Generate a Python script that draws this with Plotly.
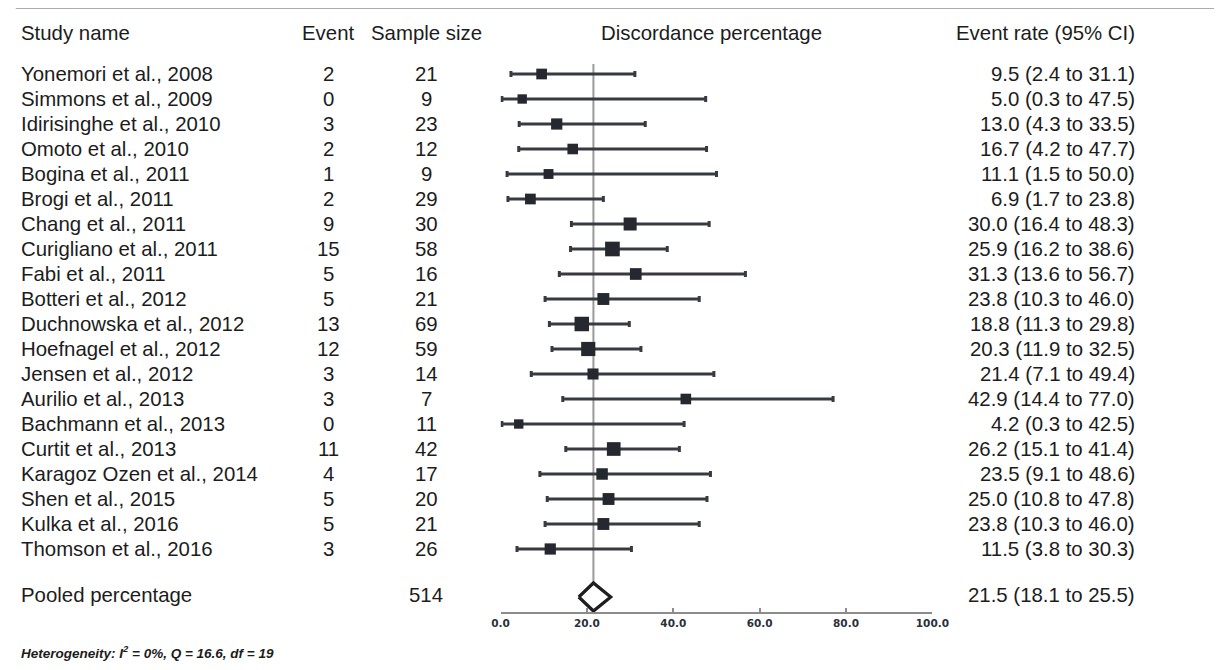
import math
import plotly.graph_objects as go

# ---------------- data ----------------
studies = [
    "Yonemori et al., 2008", "Simmons et al., 2009", "Idirisinghe et al., 2010",
    "Omoto et al., 2010", "Bogina et al., 2011", "Brogi et al., 2011",
    "Chang et al., 2011", "Curigliano et al., 2011", "Fabi et al., 2011",
    "Botteri et al., 2012", "Duchnowska et al., 2012", "Hoefnagel et al., 2012",
    "Jensen et al., 2012", "Aurilio et al., 2013", "Bachmann et al., 2013",
    "Curtit et al., 2013", "Karagoz Ozen et al., 2014", "Shen et al., 2015",
    "Kulka et al., 2016", "Thomson et al., 2016",
]
events = [2, 0, 3, 2, 1, 2, 9, 15, 5, 5, 13, 12, 3, 3, 0, 11, 4, 5, 5, 3]
samples = [21, 9, 23, 12, 9, 29, 30, 58, 16, 21, 69, 59, 14, 7, 11, 42, 17, 20, 21, 26]
rates = [9.5, 5.0, 13.0, 16.7, 11.1, 6.9, 30.0, 25.9, 31.3, 23.8,
         18.8, 20.3, 21.4, 42.9, 4.2, 26.2, 23.5, 25.0, 23.8, 11.5]
lower = [2.4, 0.3, 4.3, 4.2, 1.5, 1.7, 16.4, 16.2, 13.6, 10.3,
         11.3, 11.9, 7.1, 14.4, 0.3, 15.1, 9.1, 10.8, 10.3, 3.8]
upper = [31.1, 47.5, 33.5, 47.7, 50.0, 23.8, 48.3, 38.6, 56.7, 46.0,
         29.8, 32.5, 49.4, 77.0, 42.5, 41.4, 48.6, 47.8, 46.0, 30.3]

pooled_label = "Pooled percentage"
pooled_total = 514
pooled_rate = 21.5
pooled_lower = 18.1
pooled_upper = 25.5

headers = ["Study name", "Event", "Sample size", "Discordance percentage", "Event rate (95% CI)"]
tick_values = [0, 20, 40, 60, 80, 100]
heterogeneity = "Heterogeneity: I<sup>2</sup> = 0%, Q = 16.6, df = 19"

# ---------------- layout helpers ----------------
OFF = 8                      # page body margin
W, H = 1260, 670 - 2 * OFF
ROW0_PX, ROW_STEP = 74, 25   # screen pixel y of first row, row spacing
KX, AX = 0.9776, 10.45       # horizontal calibration of the photographed page


def fx(px):                  # target x pixel -> paper x
    return ((px - AX) / KX - OFF) / W


def row_of_px(py):           # screen y pixel -> row units
    return (py - ROW0_PX) / ROW_STEP


def paper_y(py):             # screen y pixel -> paper y
    return (H - (py - OFF)) / H


n = len(studies)
rows = list(range(n))
pooled_row = row_of_px(597)
header_row = row_of_px(33)

TEXT = "#1c1c1c"
MARK = "#25282f"
FONT = "Liberation Sans, Arial, sans-serif"
FS = 20.4


# marker size from approximate inverse-variance weight
def box_size(e, s):
    ee, ss = (e, s) if e > 0 else (e + 0.5, s + 1)
    p = ee / ss
    w = ss * p * (1 - p)
    return 8 + 2 * math.sqrt(w)


sizes = [box_size(e, s) for e, s in zip(events, samples)]

fig = go.Figure()

# study estimates with CI
fig.add_trace(go.Scatter(
    x=rates, y=rows, mode="markers",
    marker=dict(symbol="square", size=sizes, color=MARK, opacity=1, line=dict(width=0)),
    error_x=dict(type="data", symmetric=False,
                 array=[u - r for u, r in zip(upper, rates)],
                 arrayminus=[r - l for r, l in zip(rates, lower)],
                 thickness=3, width=3, color="#373a41"),
    hoverinfo="skip", showlegend=False, cliponaxis=False,
))

# pooled diamond
dh = 14 / ROW_STEP
fig.add_trace(go.Scatter(
    x=[pooled_lower, pooled_rate, pooled_upper, pooled_rate, pooled_lower],
    y=[pooled_row, pooled_row - dh, pooled_row, pooled_row + dh, pooled_row],
    mode="lines", line=dict(color="#1e1e1e", width=3.2), fill="toself",
    fillcolor="white", hoverinfo="skip", showlegend=False, cliponaxis=False,
))

# reference line at pooled estimate
fig.add_shape(type="line", xref="x", yref="y", x0=pooled_rate, x1=pooled_rate,
              y0=row_of_px(64), y1=row_of_px(613),
              line=dict(color="#9a9a9a", width=2), layer="below")

# top rule
fig.add_shape(type="line", xref="paper", yref="paper", x0=fx(17), x1=1,
              y0=paper_y(7), y1=paper_y(7), line=dict(color="#5a5a5a", width=3))

annotations = []


def add_text(text, xpx, y, anchor, yref="y", size=FS):
    annotations.append(dict(
        text=text, x=fx(xpx), xref="paper", y=y, yref=yref,
        xanchor=anchor, yanchor="middle", showarrow=False,
        font=dict(family=FONT, size=size, color=TEXT),
    ))


# headers
add_text(headers[0], 20, header_row, "left")
add_text(headers[1], 329, header_row, "center")
add_text(headers[2], 427, header_row, "center")
add_text(headers[3], 712, header_row, "center")
add_text(headers[4], 1136, header_row, "right")

# rows
for i in rows:
    add_text(studies[i], 20, i, "left")
    add_text(str(events[i]), 329, i, "center")
    add_text(str(samples[i]), 427, i, "center")
    add_text(f"{rates[i]:.1f} ({lower[i]:.1f} to {upper[i]:.1f})", 1136, i, "right")

# pooled row
add_text(pooled_label, 20, row_of_px(595), "left")
add_text(str(pooled_total), 427, row_of_px(595), "center")
add_text(f"{pooled_rate:.1f} ({pooled_lower:.1f} to {pooled_upper:.1f})", 1136,
         row_of_px(595), "right")

# heterogeneity note
annotations.append(dict(
    text=f"<b><i>{heterogeneity}</i></b>", x=fx(20), xref="paper",
    y=paper_y(652), yref="paper", xanchor="left", yanchor="middle",
    showarrow=False, font=dict(family=FONT, size=13.5, color=TEXT),
))

x0_px, x100_px = 501, 932
fig.update_layout(
    width=W, height=H,
    margin=dict(l=0, r=0, t=0, b=0, pad=0),
    paper_bgcolor="white", plot_bgcolor="white",
    showlegend=False,
    annotations=annotations,
    xaxis=dict(
        domain=[fx(x0_px), fx(x100_px)], range=[0, 100],
        anchor="free", position=paper_y(613),
        showline=True, linecolor="#8c8c8c", linewidth=2,
        ticks="inside", ticklen=4, tickwidth=1.5, tickcolor="#8c8c8c",
        tickvals=tick_values, ticktext=[f"{v:.1f}" for v in tick_values],
        tickfont=dict(family="DejaVu Sans, Verdana, sans-serif", size=10.5,
                      color="#2a2f3a", weight="bold"),
        showgrid=False, zeroline=False, fixedrange=True,
    ),
    yaxis=dict(
        domain=[0, 1], range=[row_of_px(670 - OFF), row_of_px(OFF)],
        visible=False, showgrid=False, zeroline=False, fixedrange=True,
    ),
)

fig.write_html("out.html")
